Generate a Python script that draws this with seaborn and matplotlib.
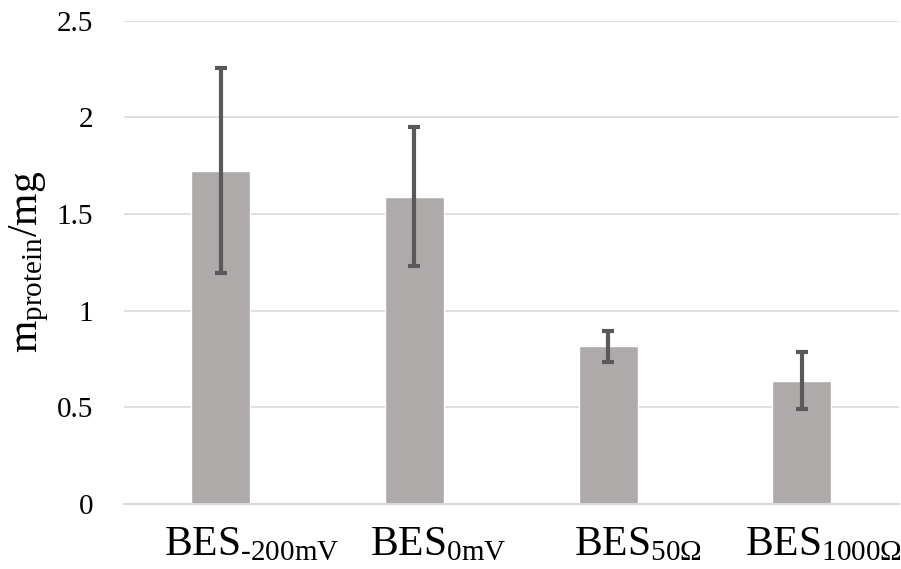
import matplotlib
matplotlib.use("Agg")
import matplotlib.pyplot as plt
import matplotlib.transforms as mtransforms
import seaborn as sns
import pandas as pd

# Protein mass per bioelectrochemical system condition
categories = [r"BES$_{\mathrm{\text{-}200mV}}$", r"BES$_{\mathrm{0mV}}$",
              r"BES$_{\mathrm{50Ω}}$", r"BES$_{\mathrm{1000Ω}}$"]
protein_mg = [1.725, 1.59, 0.815, 0.638]
error_mg = [0.53, 0.36, 0.08, 0.148]
y_ticks = [0, 0.5, 1, 1.5, 2, 2.5]
y_tick_labels = ["0", "0.5", "1", "1.5", "2", "2.5"]

sns.set_theme(style="white")
plt.rcParams["font.family"] = ["Liberation Serif", "DejaVu Serif"]
plt.rcParams["mathtext.fontset"] = "custom"
plt.rcParams["mathtext.rm"] = "Liberation Serif"
plt.rcParams["mathtext.it"] = "Liberation Serif:italic"
plt.rcParams["mathtext.bf"] = "Liberation Serif:bold"

df = pd.DataFrame({"condition": categories, "protein": protein_mg})

fig = plt.figure(figsize=(9.01, 5.69), dpi=100)
ax = fig.add_axes([0.1376, 0.1142, 0.8597, 0.8494])

sns.barplot(data=df, x="condition", y="protein", color="#aeaaaa",
            saturation=1, width=0.305, errorbar=None, ax=ax, zorder=2)
ax.errorbar(range(len(categories)), protein_mg, yerr=error_mg, fmt="none",
            ecolor="#595959", elinewidth=3, capsize=4.3, capthick=3, zorder=3)

ax.set_ylim(0, 2.5)
ax.set_xlim(-0.5, len(categories) - 0.5)
ax.set_yticks(y_ticks)
ax.set_yticklabels(y_tick_labels)
ax.yaxis.grid(True, color="#d9d9d9", linewidth=1.2, zorder=0)
ax.set_axisbelow(True)
for side in ["top", "right", "left"]:
    ax.spines[side].set_visible(False)
ax.spines["bottom"].set_color("#d9d9d9")
ax.spines["bottom"].set_linewidth(1.5)

ax.tick_params(axis="y", length=0, labelsize=21, pad=22, labelcolor="#000000")
ax.tick_params(axis="x", length=0, labelsize=30, pad=16, labelcolor="#000000")

# nudge the category labels horizontally (pixels at 100 dpi)
label_shift_px = [31, 24, 30, 22]
for lbl, dx in zip(ax.get_xticklabels(), label_shift_px):
    offset = mtransforms.ScaledTranslation(dx / 100, 0, fig.dpi_scale_trans)
    lbl.set_transform(lbl.get_transform() + offset)

ax.set_xlabel("")
ax.set_ylabel(r"m$_{\mathrm{protein}}$/mg", fontsize=30, color="#000000", labelpad=4)

fig.savefig("out.png", dpi=100)
